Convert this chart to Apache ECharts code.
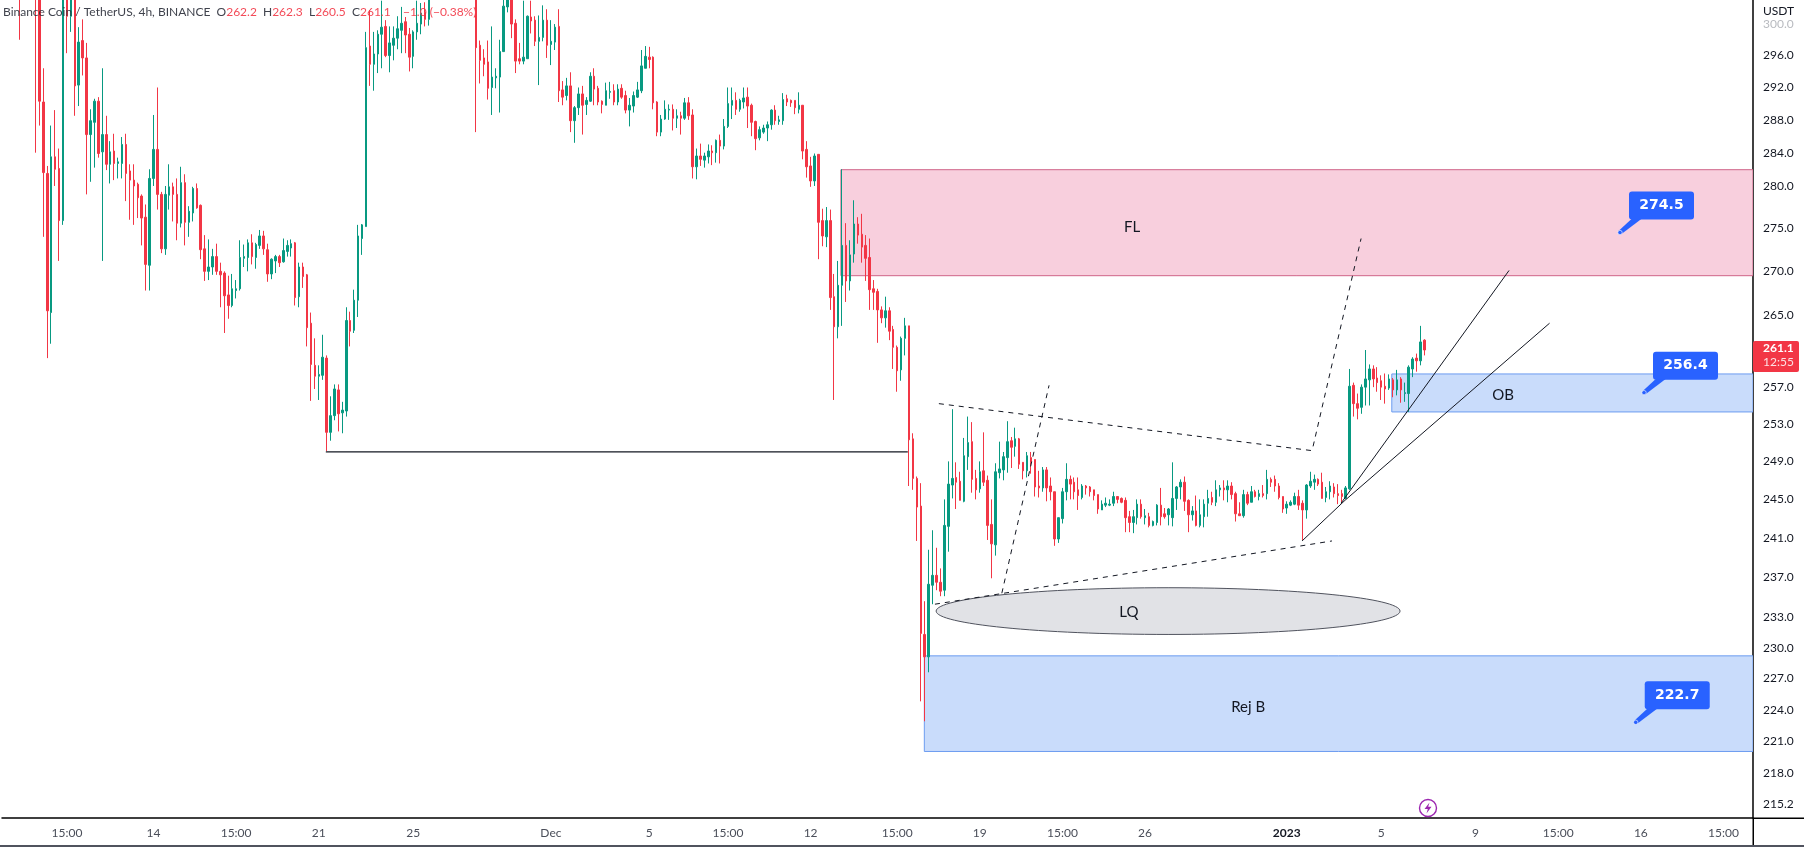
<!DOCTYPE html>
<html><head><meta charset="utf-8">
<style>html,body{margin:0;padding:0;background:#fff}#c{width:1804px;height:847px}</style>
<script src="https://cdn.jsdelivr.net/npm/echarts@6/dist/echarts.min.js"></script>
</head><body><div id="c"></div>
<script>
const opens=[310,309,311,309,308,312,310,313,312,308,
290.2,281.5,265.3,283.5,282.1,275.9,306,301,307,292.3,
297.9,295.7,286.2,287.7,290.3,284.1,286.2,282.6,284.2,282.7,
282.7,285,281.8,280.7,280.2,278.8,276.3,270.7,280.9,284.4,
279,272.6,278.9,279.9,279,275.6,280.4,275.7,276.8,279.7,
277.7,272.6,270,270.5,271.7,270,269.8,267.3,266.1,267.8,
268,271.5,271.6,273.3,271.6,273,274.1,272.5,269.7,271.2,
271.7,271.1,272.3,272.7,273.3,267.1,270.5,269.6,264.1,259.4,
258.2,258.3,260.2,252.1,253.9,256.7,254.2,254.4,264.4,263.3,
266.7,273.8,275.2,297.2,294.9,296.2,298.7,299.7,296,297.3,
298.2,299.2,300.3,298.7,295.9,299,300,301.5,300.6,306,
308,307,310,309,311,308,310,312,309,307,
305,297.3,295.7,295.2,292,293.2,293.3,296.5,302.2,306,
300.1,295.6,295.3,295.6,300.9,300.5,297.8,298.3,300.5,297.4,
297.7,299.7,291.7,291,292.2,287.9,289.5,291.2,289.9,290.3,
293.4,291.9,290.3,289.8,291.4,291.6,290.2,291.9,291,289.2,
289.7,290.8,291.6,294.4,295.8,295.8,290.2,286.5,288.1,289.2,
289.3,288.2,288.5,288.2,290.1,288.6,282.3,283.6,283.1,283.5,
284.2,284,285.5,284.8,287.2,289.8,290.4,289.3,290.2,290.8,
289.8,287.8,285.8,286.5,287,287.4,289.2,287.8,287.9,290.6,
290.4,290.4,289.3,289.8,284.4,282.4,280.6,283.8,275.9,274,
275.9,267.1,263.7,268.4,273,268.9,272,275.5,274.3,273,
271.6,268,267.7,265.6,264.7,265.5,263.4,261.4,258.9,262.4,
263.8,251.4,247.2,244.3,231.3,229.1,236.2,237.2,236.5,235.7,
242.2,246.5,247.3,246.9,244.8,249.5,251.1,247.2,246.1,248,
247,242.4,240.3,247.8,248.1,249.4,251.2,250.6,251.4,248.9,
248,249.4,249.2,246.4,246.2,248.1,246.4,245.8,240.9,243,
245.8,247.1,246.8,246,245.2,246.4,246.3,246,245.5,243.9,
244.4,244.4,244.6,245.3,245.1,244.9,243.2,242.6,243.1,244.5,
243.1,243.2,242.3,242.6,244.4,243.5,243.4,243.1,245.1,246.3,
246.8,244.9,243.4,243.8,242.3,243.2,244.6,245.2,244.7,246,
246.2,246,246.4,245.6,243.5,243.3,245.5,244.7,245.8,245.3,
245.6,245.6,247.1,247.1,246.4,245.3,244.1,244.4,244.5,245.3,
244.6,243.9,246.4,246.8,247.1,246.8,245.2,245.8,246.3,245.6,
245.6,245.1,246.1,257.2,255.2,254.8,257,257.8,259,258,
257.7,257.1,256.9,257.8,256.7,257.9,256.3,256.3,259,260.2,259.9,262.2];
const closes=[308,311,309,312,306,308,313,310,305,290.3,
281.6,265.5,283.5,282,275.9,312,301,307,292.2,297.7,
295.7,286.2,287.9,290.3,283.9,286.2,282.6,284.1,282.7,282.9,
285,281.5,280.7,280,278.6,276.2,270.8,280.9,284.4,279,
272.6,279,279.9,279,275.6,280.4,275.7,277,279.7,277.4,
272.5,270,270.5,271.7,270,269.6,267.2,266.1,268,268,
271.6,271.7,273.3,271.7,273.1,274.1,272.6,269.7,271.4,271.7,
271,272.4,273,273.2,267,270.5,269.4,263.6,259.5,258.2,
258.4,260.3,252.1,253.9,256.8,254.1,254.5,264.4,263.2,266.7,
274.1,275.4,297,294.9,296.2,298.7,299.6,296,297.6,298.2,
299.4,300.1,298.6,295.8,299,300.1,301.4,300.6,304,309,
306,310,307,311,308,311,312,309,307,310,
297,295.4,294.9,291.9,293.3,293.4,296.5,302.3,305,300,
295.3,295.3,295.8,301,300.4,297.8,298.3,300.5,297.3,297.8,
299.6,291.6,290.8,292.2,287.9,289.5,291.2,289.8,290.4,293.4,
291.8,290.2,289.9,291.6,291.5,290.2,291.8,290.8,289.2,289.8,
291,291.7,294.7,295.9,295.5,290.1,286.5,288.1,289.3,289.3,
288.2,288.5,288.2,290.1,288.5,282.3,283.6,283.2,283.6,284.2,
284,285.5,284.8,287.2,290,290.4,289.3,290.4,290.7,289.7,
287.7,285.7,286.8,287,287.4,289.2,287.9,288,290.5,290.2,
290.1,289.5,289.8,284.2,282.3,280.6,283.6,275.7,274.1,275.9,
267,263.7,268.4,273,268.9,271.9,275.5,274.2,272.8,271.5,
267.9,267.6,265.6,264.7,265.5,263.2,261.4,258.8,262.4,263.8,
251.3,247.2,244.2,231.4,229.1,236.3,237.2,236.5,235.6,242.3,
246.6,247.2,246.8,244.9,249.6,251,247.1,246,247.9,246.8,
242.3,240.4,247.9,248.2,249.5,251.1,250.5,251.4,248.7,248,
249.6,248.9,246.3,246.2,248.1,246.2,245.8,240.9,243.1,245.8,
247.1,246.6,245.8,245.4,246.4,246.2,245.8,245.4,244,244.5,
244.6,244.5,245.3,245,244.7,243.1,242.6,243.2,244.5,243.2,
243.3,242.3,242.7,244.4,243.2,243.2,244,245.1,246.3,246.8,
244.8,243.4,243.8,242.3,243.4,244.5,245.1,244.7,246,246.2,
246,246.4,245.5,243.5,243.3,245.5,244.6,245.8,245.3,245.6,
245.4,247.1,246.8,246.4,245.2,244,244.5,244.7,245.3,244.4,
243.9,246.5,246.9,247.1,246.6,245.1,245.8,246.4,245.6,245.4,
245.3,246.2,257.1,255.2,254.7,257,257.9,259,257.9,257.5,
257,256.8,257.9,256.7,257.8,256.7,256.4,259.2,260.1,259.9,262,261.1];
const highs=[312,313,314,315,310,314,315,316,315,312,
294.4,282.4,287.3,289.2,284.5,316,309,310,309,299.6,
300.6,297.6,289.3,290.6,290.8,294.4,288.5,285.4,286.3,283.4,
285.9,286.3,282.6,282.6,280.4,279,277.8,282,288.6,292,
279.3,280,282.6,280.4,280.9,282.3,281.4,277.6,279.9,280.3,
277.8,274.2,273.7,272.6,273.2,271,270,269.5,269.7,269,
273.6,273.1,273.7,274.3,273.3,274.8,274.7,273.2,271.5,271.9,
271.9,273.8,273.6,273.7,273.4,271,271,269.7,265.3,262.4,
259.4,262.8,260.5,256,257.3,257.3,255.4,265.9,265.4,267.9,
275.4,275.5,299,301.8,299,299.2,303,300.5,299.7,299.7,
301,302.2,300.9,299.5,299.2,303,302.7,302.8,306,311,
310,312,311,313,312,313,314,313,311,312,
308,297.9,296.8,297.9,299.7,294.4,298,304,307,308,
300.6,297.6,303,301.1,303,301,301.1,302.4,301.9,300.5,
300,301.9,292.8,293.2,293.9,289.7,292,292.2,290.8,293.9,
294.4,292.2,290.4,292.6,292.7,292.4,292.4,292.4,291.6,290.7,
291.5,292.7,296.7,297.2,297.1,295.9,290.3,288.6,290.4,289.9,
289.9,289.3,289,290.7,290.8,289.3,284.5,285.1,284,285,
284.9,285.6,286.2,288.1,292,292,291.4,290.6,292,292,
290,287.9,287.2,287.4,287.8,289.3,289.8,288.5,291.3,291.1,
290.5,290.4,291.4,289.8,285.4,283.5,283.9,283.8,277.3,277.5,
277.2,269.7,271.2,282,275.6,273.6,278.3,276.3,276.7,274.2,
273.8,269,268,266,267.1,265.9,263.8,261.6,262.6,264.7,
263.8,252,247.4,246.7,234.6,239.8,241.8,240,237.9,245,
249,254.6,248.9,247.9,251.5,253.8,253.2,248.1,249,252.1,
247.5,245,248.8,251.1,250,253.3,251.6,252.6,251.5,248.9,
250,250,249.2,248,248.4,248.4,247.3,245.8,243.1,246.2,
248.8,247.5,247.3,247.3,246.6,246.5,246.4,246,245.5,244.9,
245.2,245,245.8,245.3,245.2,245.2,243.8,243.9,245,245,
244,243.6,242.8,244.5,246.2,244.1,244.1,248.9,246.4,247.1,
247.4,245,244.3,245.4,245,245,246,245.8,247,246.5,
247,247,246.8,245.8,244.7,246,245.8,246.4,246,246,
246.5,248.1,247.3,247.5,246.7,245.3,244.8,244.9,245.7,246,
244.9,246.6,247.9,247.6,247.2,247.8,246.3,246.9,246.7,246.6,
246,246.4,259,257.5,256.3,257.3,261.1,259.5,259.4,259.2,
258.3,258.5,258.4,258,258.9,258.1,257.5,259.4,260.3,260.7,263.8,262.3];
const lows=[305,305,306,306,298,305,306,306,284,287.3,
274,260.2,261.8,280,271.2,275.4,296.3,299,288.5,289.7,
293.5,279,280.5,282.2,283.4,271.2,281.9,280.3,280.7,280.9,
280.9,278.2,276,275.4,276.2,273,267.8,267.8,280,277.2,
272.1,271.9,277.2,275.8,273.6,275.1,273,274,275.8,277.3,
271.4,268.9,269,269.6,269.6,265.9,263,264.6,265.9,266.9,
267.8,270.5,270,270.8,270.3,272.6,271.9,268.8,269.1,269.8,
270.5,271,271.7,271.7,266.1,265.9,268.1,261.5,255.5,256.8,
255.6,257.8,250.1,251.2,253.4,252.2,252,253.8,261.5,263,
264.8,271.9,275.2,292.2,291.6,293.8,294.4,295.8,293.9,295.4,
296.8,296.3,296.3,294,294.4,298,298.7,299.7,299.8,304,
304,305,305,304,306,304,305,306,305,304,
286.5,292.5,293.4,290.5,288.6,291.9,288.9,296.5,301.5,298.2,
293.8,294.9,294.9,295.6,298.8,297.2,292.3,297.8,295.7,294.8,
296.7,290.2,289.8,290.4,286.5,285.2,288.6,286.2,288.6,290.2,
289.8,289.8,288.8,289.8,290.6,289.8,289.8,290.6,288.8,287.2,
288.9,290.7,291.3,294.4,294.4,289.3,286,286,288,288,
286.7,287,286.2,288,288,280.9,280.8,282.4,282.2,282.7,
282.5,282.8,282.7,284.4,287,288.1,288.6,289,289.4,287,
286,284.3,285.5,286.3,285.4,286.8,287.4,287.4,287.4,289.7,
289.6,288.7,288.8,283.2,281,279.9,280,271.4,272.9,272.8,
265.6,255.6,262.4,263.8,266.5,267.8,271,273.2,271,268.9,
265.6,265.6,261.9,264.1,263.6,262.2,259,256.5,257.7,260.5,
246.4,246,240.7,224.8,222.9,227.6,234.3,235.7,235.1,235.1,
239.6,245.1,244,244.9,244.7,248.1,245.7,245,245.7,246.4,
240.8,236.9,239.2,247.2,247,247.8,248.3,249.5,248.2,247.1,
247.3,247.7,245.3,245.2,245.8,244.8,244.9,240.2,240.5,242.5,
244.9,245,245,243.9,245,245.5,245.3,244.9,243.5,243.9,
244.2,244.3,244.3,244.6,244.6,241.6,241.6,241.5,242.4,243,
242.4,242.1,242.2,242.3,242.3,243,242.3,242.2,243.9,245,
243.8,241.6,242.8,242.2,242.1,242.1,243.2,244.4,244.3,245.3,
244.9,244.7,245,242.7,243.3,243.1,244.4,244.7,245.2,244.9,
245.2,245,246.3,245.8,245,243.6,243.5,244.3,244.4,243.9,
240.8,243,246.2,246,246.4,245.1,244.7,245,245.2,244.5,
244.6,245.1,246,253.8,253.5,254.1,255,255,257,256.5,
255.6,255.2,256.7,255.9,256.1,255.3,255.4,254.3,258.1,258.7,259.4,260.5];

const slotCount=445;
const xTickBars=[16,38,59,80,104,139,164,184,205,227,248,269,290,326,350,374,395,416,437];
const xTickLabels=['15:00','14','15:00','21','25','Dec','5','15:00','12','15:00','19','15:00','26','2023','5','9','15:00','16','15:00'];
const priceTicks=[300,296,292,288,284,280,275,270,265,257,253,249,245,241,237,233,230,227,224,221,218,215.2];

// Annotations, in bar units (bar i is centred on i+0.5) and price
const zoneRects=[{from:213.2,to:445,top:281.95,bottom:269.5,fill:'#f8cfdd',line:'#cf6488'},
  {from:353.2,to:445,top:258.45,bottom:254.3,fill:'#c9dcfb',line:'#6c9cf0'},
  {from:234.4,to:445,top:229.2,bottom:220.05,fill:'#c9dcfb',line:'#6c9cf0'}];
const lqEllipse={left:237.4,right:355.3,top:235.95,bottom:231.3};
const trendLines=[
  {pts:[[82.3,250],[230.2,250]],width:1.3,dash:null},
  {pts:[[238.1,255.2],[333.7,250.1]],width:1,dash:[5,5]},
  {pts:[[254.1,235.4],[266.1,257.2]],width:1,dash:[5,5]},
  {pts:[[237.1,234.3],[338,240.7]],width:1,dash:[5,5]},
  {pts:[[333.2,250.6],[345.4,273.8]],width:1,dash:[5,5]},
  {pts:[[340.3,244.6],[383,270.1]],width:1,dash:null},
  {pts:[[330.4,240.7],[341.3,244.9],[393.3,264.1]],width:1,dash:null}];
const zoneTexts=[{t:'FL',x:287.2,p:275.1},{t:'LQ',x:286.4,p:233.5},{t:'OB',x:381.5,p:256.1},{t:'Rej B',x:316.7,p:224.2}];
const callouts=[{t:'274.5',x:411.2,p:274.5},{t:'256.4',x:417.3,p:256.4},{t:'222.7',x:415.2,p:222.8}];

const RED='#f23645',GREEN='#089981',BLUE='#2962ff',INK='#131722';
const FONT='Lato,"Noto Sans",sans-serif';
const candles=opens.map((o,i)=>[o,closes[i],lows[i],highs[i]]);
const categories=Array.from({length:slotCount},()=>'');
xTickBars.forEach((b,i)=>{categories[b]=xTickLabels[i];});

const chart=echarts.init(document.getElementById('c'),null,{renderer:'canvas'});
chart.setOption({
 animation:false,backgroundColor:'#fff',
 grid:{left:2,right:51,top:0,bottom:29,containLabel:false},
 xAxis:[{type:'category',data:categories,boundaryGap:true,
   axisLine:{lineStyle:{color:'#000',width:1.5}},axisTick:{show:false},splitLine:{show:false},
   axisLabel:{interval:0,hideOverlap:false,margin:9,fontFamily:FONT,fontSize:12,color:'#4a4e59',
     formatter:v=>v==='2023'?'{b|2023}':v,rich:{b:{fontWeight:'bold',color:INK,fontFamily:FONT,fontSize:12}}}},
  {type:'value',min:0,max:slotCount,show:false,gridIndex:0}],
 yAxis:{type:'log',logBase:10,min:213.9,max:303.09,position:'right',scale:true,
   axisLine:{show:true,onZero:false,lineStyle:{color:'#000',width:1.5}},axisTick:{show:false,customValues:priceTicks},splitLine:{show:false},minorTick:{show:false},minorSplitLine:{show:false},
   axisLabel:{customValues:priceTicks,margin:10,align:'left',fontFamily:FONT,fontSize:12,color:INK,
     formatter:v=>v===300?'{f|300.0}':Number(v).toFixed(1),rich:{f:{color:'#b9bbc0',fontFamily:FONT,fontSize:12}}}},
 series:[
  {type:'custom',name:'zones',xAxisIndex:1,yAxisIndex:0,z:1,silent:true,clip:true,
   data:zoneRects.map((r,i)=>[i]),
   renderItem:(ps,api)=>{const r=zoneRects[ps.dataIndex];const a=api.coord([r.from,r.top]),b=api.coord([r.to,r.bottom]);
     return {type:'rect',shape:{x:a[0],y:a[1],width:b[0]-a[0],height:b[1]-a[1]},style:{fill:r.fill,stroke:r.line,lineWidth:1}};}},
  {type:'candlestick',data:candles,barWidth:2,z:2,silent:true,
   itemStyle:{color:GREEN,color0:RED,borderColor:GREEN,borderColor0:RED,borderWidth:1}},
  {type:'custom',name:'ellipse',xAxisIndex:1,yAxisIndex:0,z:3,silent:true,data:[[0]],
   renderItem:(ps,api)=>{const a=api.coord([lqEllipse.left,lqEllipse.top]),b=api.coord([lqEllipse.right,lqEllipse.bottom]);
     return {type:'ellipse',shape:{cx:(a[0]+b[0])/2,cy:(a[1]+b[1])/2,rx:(b[0]-a[0])/2,ry:(b[1]-a[1])/2},style:{fill:'#e1e2e6',stroke:'#50535e',lineWidth:1}};}},
  {type:'custom',name:'lines',xAxisIndex:1,yAxisIndex:0,z:4,silent:true,data:trendLines.map((r,i)=>[i]),
   renderItem:(ps,api)=>{const l=trendLines[ps.dataIndex];
     return {type:'polyline',shape:{points:l.pts.map(p=>api.coord(p))},style:{fill:null,stroke:'#131722',lineWidth:l.width,lineDash:l.dash}};}},
  {type:'custom',name:'texts',xAxisIndex:1,yAxisIndex:0,z:5,silent:true,data:zoneTexts.map((r,i)=>[i]),
   renderItem:(ps,api)=>{const l=zoneTexts[ps.dataIndex];const c=api.coord([l.x,l.p]);
     return {type:'text',x:c[0],y:c[1],style:{text:l.t,fill:INK,font:'15px '+FONT,align:'center',verticalAlign:'middle'}};}},
  {type:'custom',name:'callouts',xAxisIndex:1,yAxisIndex:0,z:6,silent:true,clip:false,data:callouts.map((r,i)=>[i]),
   renderItem:(ps,api)=>{const l=callouts[ps.dataIndex];const c=api.coord([l.x,l.p]);
     return {type:'group',x:c[0],y:c[1],children:[
       {type:'polygon',shape:{points:[[-1.5,-1.5],[12,-14],[22,-14],[1.5,1.5]]},style:{fill:BLUE}},
       {type:'rect',shape:{x:9,y:-41,width:65,height:28,r:3},style:{fill:BLUE}},
       {type:'circle',shape:{cx:0,cy:0,r:2.2},style:{fill:BLUE,stroke:'#fff',lineWidth:0.6}},
       {type:'text',x:41.5,y:-27,style:{text:l.t,fill:'#fff',font:'bold 14px "DejaVu Sans",sans-serif',align:'center',verticalAlign:'middle'}}]};}}
 ],
 graphic:[
  {type:'text',left:3,top:6,z:50,silent:true,style:{
    text:'{k|Binance Coin / TetherUS, 4h, BINANCE  O}{v|262.2}{k|  H}{v|262.3}{k|  L}{v|260.5}{k|  C}{v|261.1}{v|    −1.0 (−0.38%)}',
    rich:{k:{fill:'#2a2e39',font:'12px '+FONT,opacity:.9},v:{fill:RED,font:'12px '+FONT,opacity:.9}}}},
  {type:'text',left:1763,top:5,z:50,silent:true,style:{text:'USDT',fill:INK,font:'12px '+FONT}},
  {type:'rect',z:50,silent:true,shape:{x:1753,y:341,width:46,height:31,r:2},style:{fill:RED}},
  {type:'text',left:1763,top:342,z:51,silent:true,style:{text:'261.1',fill:'#fff',font:'bold 12px '+FONT}},
  {type:'text',left:1763,top:356,z:51,silent:true,style:{text:'12:55',fill:'#fde0e3',font:'12px '+FONT}},
  {type:'rect',z:49,silent:true,shape:{x:1753,y:817.5,width:51,height:1.5},style:{fill:'#000'}},
  {type:'rect',z:49,silent:true,shape:{x:1752.5,y:818,width:1.5,height:27},style:{fill:'#000'}},
  {type:'rect',z:49,silent:true,shape:{x:0,y:845,width:1804,height:2},style:{fill:'#50535e'}},
  {type:'circle',z:50,silent:true,shape:{cx:1428,cy:808,r:8.5},style:{fill:'#fff',stroke:'#9c27b0',lineWidth:1.4}},
  {type:'polygon',z:51,silent:true,shape:{points:[[1429.5,802.5],[1424.5,809],[1427.8,809],[1426.5,813.5],[1431.5,806.8],[1428.2,806.8]]},style:{fill:'#9c27b0'}}
 ]
});
</script></body></html>
